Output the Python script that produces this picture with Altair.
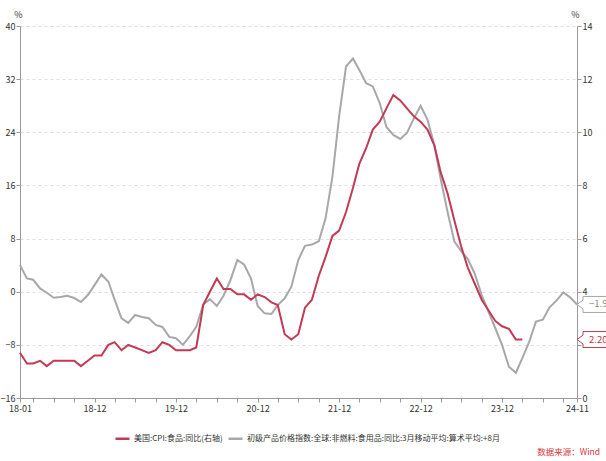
import altair as alt
import pandas as pd

# ---------------- data ----------------
months = [d.strftime("%Y-%m-%d") for d in pd.date_range("2018-01-01", "2024-11-01", freq="MS")]

gray_values = [
    4.0, 2.0, 1.8, 0.5, -0.15, -0.9, -0.8, -0.6, -0.95, -1.55, -0.5, 1.0,      # 2018
    2.6, 1.5, -1.2, -4.0, -4.7, -3.5, -3.8, -4.0, -5.0, -5.3, -6.8, -7.0,      # 2019
    -8.0, -6.7, -5.3, -1.9, -1.15, -2.15, -0.6, 1.76, 4.77, 4.1, 2.0, -2.15,   # 2020
    -3.26, -3.36, -2.0, -1.0, 0.75, 4.77, 6.9, 7.1, 7.6, 11.0, 17.3, 26.4,     # 2021
    33.9, 35.1, 33.4, 31.4, 30.9, 28.4, 24.8, 23.6, 23.0, 23.9, 26.1, 28.0,    # 2022
    25.9, 22.0, 17.0, 12.0, 7.6, 6.1, 4.9, 2.7, -0.5, -3.0, -5.5, -8.0,        # 2023
    -11.3, -12.2, -10.0, -7.5, -4.5, -4.2, -2.35, -1.35, -0.1, -0.85, -1.92,   # 2024
]

red_values = [
    1.7, 1.3, 1.3, 1.4, 1.2, 1.4, 1.4, 1.4, 1.4, 1.2, 1.4, 1.6,        # 2018
    1.6, 2.0, 2.1, 1.8, 2.0, 1.9, 1.8, 1.7, 1.8, 2.1, 2.0, 1.8,        # 2019
    1.8, 1.8, 1.9, 3.5, 4.0, 4.5, 4.1, 4.1, 3.9, 3.9, 3.7, 3.9,        # 2020
    3.8, 3.6, 3.5, 2.4, 2.2, 2.4, 3.4, 3.7, 4.6, 5.3, 6.1, 6.3,        # 2021
    7.0, 7.9, 8.8, 9.4, 10.1, 10.4, 10.9, 11.4, 11.2, 10.9, 10.6, 10.4,  # 2022
    10.1, 9.5, 8.5, 7.7, 6.7, 5.7, 4.9, 4.3, 3.7, 3.3, 2.9, 2.7,       # 2023
    2.6, 2.2, 2.2,                                                     # 2024
]

red_name = "美国:CPI:食品:同比(右轴)"
gray_name = "初级产品价格指数:全球:非燃料:食用品:同比:3月移动平均:算术平均:+8月"
source_text = "数据来源：Wind"

x_labels = ["18-01", "18-12", "19-12", "20-12", "21-12", "22-12", "23-12", "24-11"]
left_ticks = [-16, -8, 0, 8, 16, 24, 32, 40]
right_ticks = [0, 2, 4, 6, 8, 10, 12, 14]

RED = "#C23A54"
GRAY = "#A8A8A8"
AXIS = "#9A9A9A"
LABEL = "#333333"
FONT = "Noto Sans CJK SC"

W, H = 557, 372

df_gray = pd.DataFrame({"date": months, "value": gray_values, "series": gray_name})
df_red = pd.DataFrame({"date": months[:len(red_values)], "value": red_values, "series": red_name})
df_gray_last = df_gray.tail(1)
df_red_last = df_red.tail(1)


def to_ms(s):
    return int(pd.Timestamp(s, tz="UTC").value // 10**6)


tick_dates = [months[0]] + [m for m in months if m[5:7] in ("03", "06", "09", "12")] + [months[-1]]
tick_ms = sorted(set(to_ms(m) for m in tick_dates))
label_list = "[" + ",".join("'" + s + "'" for s in x_labels) + "]"

x_enc = alt.X(
    "date:T",
    scale=alt.Scale(type="utc", domain=[to_ms(months[0]), to_ms(months[-1])]),
    axis=alt.Axis(
        values=tick_ms,
        labelExpr=f"indexof({label_list}, utcFormat(datum.value, '%y-%m')) >= 0 ? utcFormat(datum.value, '%y-%m') : ''",
        title=None, grid=False, domainColor=AXIS, tickColor=AXIS, tickSize=4,
        labelFontSize=9, labelColor=LABEL, labelPadding=2, labelOverlap=False,
        labelFlush=False, labelFont=FONT,
    ),
)

y_left = alt.Y(
    "value:Q",
    scale=alt.Scale(domain=[-16, 40], nice=False, zero=False),
    axis=alt.Axis(
        orient="left", values=left_ticks, grid=True, gridDash=[3, 3], gridColor="#DEDEDE",
        domainColor=AXIS, tickColor=AXIS, tickSize=4, labelFontSize=9, labelColor=LABEL,
        labelPadding=1, labelFont=FONT,
        title="%", titleAngle=0, titleX=-2, titleY=-9, titleAlign="center",
        titleBaseline="alphabetic", titleFontSize=9, titleFontWeight="normal",
        titleColor=LABEL, titleFont=FONT,
    ),
)

y_right = alt.Y(
    "value:Q",
    scale=alt.Scale(domain=[0, 14], nice=False, zero=False),
    axis=alt.Axis(
        orient="right", values=right_ticks, grid=False,
        domainColor=AXIS, tickColor=AXIS, tickSize=4, labelFontSize=9, labelColor=LABEL,
        labelPadding=1, labelFont=FONT,
        title="%", titleAngle=0, titleX=-2, titleY=-9, titleAlign="center",
        titleBaseline="alphabetic", titleFontSize=9, titleFontWeight="normal",
        titleColor=LABEL, titleFont=FONT,
    ),
)

color_enc = alt.Color(
    "series:N",
    scale=alt.Scale(domain=[red_name, gray_name], range=[RED, GRAY]),
    legend=alt.Legend(
        title=None, orient="none", legendX=94, legendY=404, direction="horizontal",
        symbolType="stroke", symbolSize=196, symbolStrokeWidth=2.5,
        labelFontSize=8, labelColor=LABEL, labelFont=FONT, labelOffset=3,
        columnPadding=0, labelLimit=600, padding=0,
    ),
)

CALLOUT = "M0,0L0.75,-0.55L0.75,-1L6,-1L6,1L0.75,1L0.75,0.55Z"

gray_line = alt.Chart(df_gray).mark_line(strokeWidth=2).encode(x=x_enc, y=y_left, color=color_enc)
gray_box = alt.Chart(df_gray_last).mark_point(
    shape=CALLOUT, size=256, filled=True, fill="white", stroke=GRAY, strokeWidth=1, opacity=1
).encode(x=alt.value(W), y=y_left)
gray_txt = alt.Chart(df_gray_last).mark_text(
    align="left", baseline="middle", fontSize=9.5, color="#8C8C8C", font=FONT
).encode(x=alt.value(W + 12), y=y_left, text=alt.Text("value:Q", format=".2f"))

red_line = alt.Chart(df_red).mark_line(strokeWidth=2).encode(x=x_enc, y=y_right, color=color_enc)
red_box = alt.Chart(df_red_last).mark_point(
    shape=CALLOUT, size=256, filled=True, fill="white", stroke=RED, strokeWidth=1, opacity=1
).encode(x=alt.value(W), y=y_right)
red_txt = alt.Chart(df_red_last).mark_text(
    align="left", baseline="middle", fontSize=9.5, color=RED, font=FONT
).encode(x=alt.value(W + 12), y=y_right, text=alt.Text("value:Q", format=".2f"))

src = alt.Chart(pd.DataFrame({"t": [source_text]})).mark_text(
    align="right", baseline="middle", fontSize=8.5, color="#D8363A", font=FONT
).encode(x=alt.value(W + 23), y=alt.value(H + 54), text="t:N")

gray_layer = alt.layer(gray_line, gray_box, gray_txt)
red_layer = alt.layer(red_line, red_box, red_txt)

chart = (
    alt.layer(gray_layer, red_layer, src)
    .resolve_scale(y="independent")
    .properties(
        width=W, height=H,
        padding={"left": 20, "top": 26, "right": 29, "bottom": 63},
        autosize=alt.AutoSizeParams(type="none"),
    )
    .configure(font=FONT)
    .configure_view(stroke=None)
)

chart.save("out.html", embed_options={"renderer": "svg", "actions": False})
